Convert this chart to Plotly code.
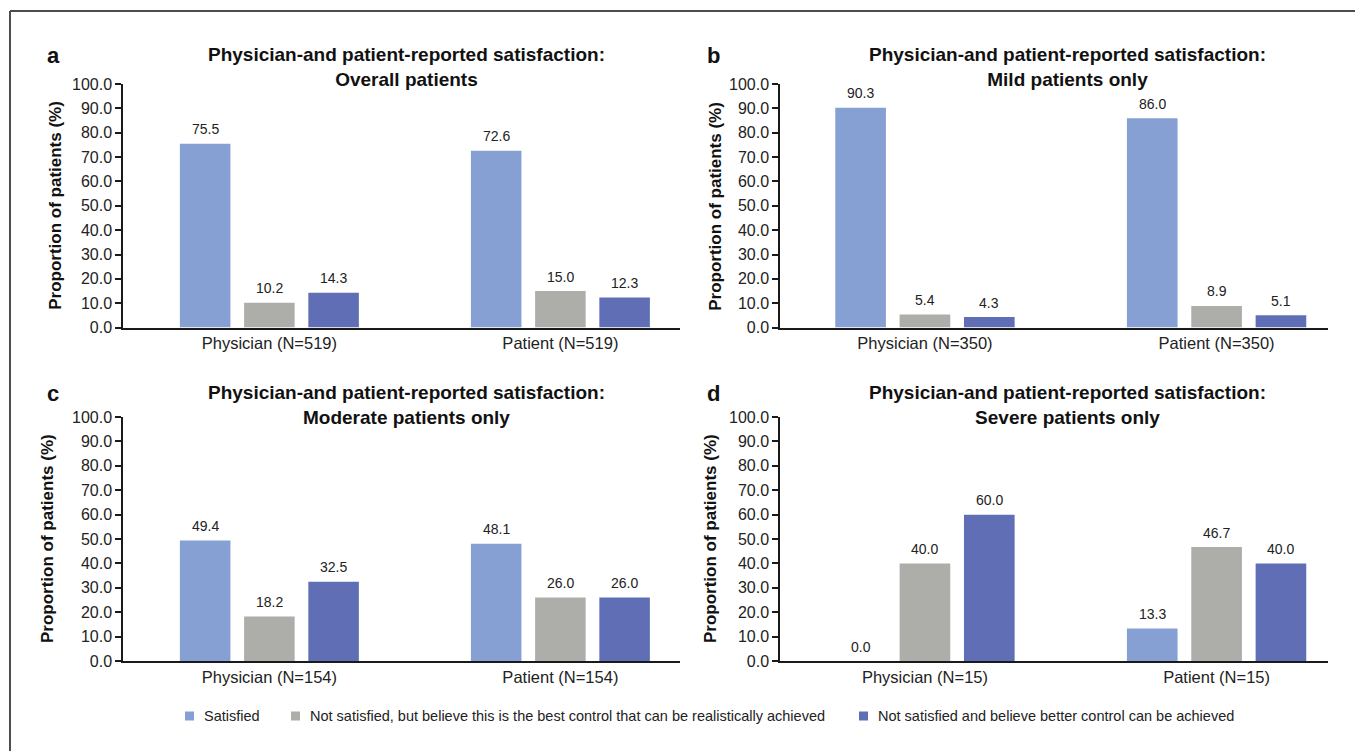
import plotly.graph_objects as go

W, H = 1355, 751

series_names = [
    "Satisfied",
    "Not satisfied, but believe this is the best control that can be realistically achieved",
    "Not satisfied and believe better control can be achieved",
]
series_colors = ["#86a0d3", "#adadaa", "#606fb5"]

panel_letters = ["a", "b", "c", "d"]
panel_subtitles = ["Overall patients", "Mild patients only",
                   "Moderate patients only", "Severe patients only"]
title_line1 = "Physician-and patient-reported satisfaction:"

cats_a = ["Physician (N=519)", "Patient (N=519)"]
cats_b = ["Physician (N=350)", "Patient (N=350)"]
cats_c = ["Physician (N=154)", "Patient (N=154)"]
cats_d = ["Physician (N=15)", "Patient (N=15)"]

satisfied_a = [75.5, 72.6]
notsat_best_a = [10.2, 15.0]
notsat_better_a = [14.3, 12.3]

satisfied_b = [90.3, 86.0]
notsat_best_b = [5.4, 8.9]
notsat_better_b = [4.3, 5.1]

satisfied_c = [49.4, 48.1]
notsat_best_c = [18.2, 26.0]
notsat_better_c = [32.5, 26.0]

satisfied_d = [0.0, 13.3]
notsat_best_d = [40.0, 46.7]
notsat_better_d = [60.0, 40.0]

y_ticks = [0, 10, 20, 30, 40, 50, 60, 70, 80, 90, 100]
y_title = "Proportion of patients (%)"

panels = [
    (cats_a, [satisfied_a, notsat_best_a, notsat_better_a]),
    (cats_b, [satisfied_b, notsat_best_b, notsat_better_b]),
    (cats_c, [satisfied_c, notsat_best_c, notsat_better_c]),
    (cats_d, [satisfied_d, notsat_best_d, notsat_better_d]),
]

# ---- layout geometry (target pixels in the final picture) ----
FONT = "Liberation Sans, Arial, sans-serif"
col_x = [(123, 680), (780, 1328)]
row_y = [(84, 327.5), (417, 661)]
x_ranges = [[-0.503, 1.411], [-0.497, 1.382]]
BARGAP = 0.338
GROUPGAP = 0.213
title_cx = [406, 1067]
title_cy = [67, 405]
letter_x = [53, 713]
ylab_x = [[56, 716], [47, 710]]
VSCALE = 0.9775   # vertical scale observed in the captured page
VOFF = 7.9        # vertical offset observed in the captured page


def px(x):
    return x / W


def py(y):
    return 1 - ((y - VOFF) / VSCALE) / H


fig = go.Figure()
layout = dict(
    width=W, height=H,
    margin=dict(l=0, r=0, t=0, b=0),
    paper_bgcolor="white", plot_bgcolor="white",
    barmode="group", bargap=BARGAP, bargroupgap=GROUPGAP,
    showlegend=False,
    font=dict(family=FONT, color="#222222"),
)
annotations = []
shapes = []

for i, (cats, vals) in enumerate(panels):
    r, c = divmod(i, 2)
    xa = "x" if i == 0 else f"x{i+1}"
    ya = "y" if i == 0 else f"y{i+1}"
    x0, x1 = col_x[c]
    y0, y1 = row_y[r]
    # pixel width of one bar slot inside a group (derived from axis scale)
    unit_px = (x1 - x0) / (x_ranges[c][1] - x_ranges[c][0])
    slot_px = unit_px * (1 - BARGAP) / len(vals)
    for s, v in enumerate(vals):
        fig.add_trace(go.Bar(
            x=cats, y=v, name=series_names[s],
            marker=dict(color=series_colors[s], line=dict(width=0)),
            xaxis=xa, yaxis=ya,
        ))
        # value labels above bars, placed in data coordinates
        for j, val in enumerate(v):
            annotations.append(dict(
                xref=xa, yref=ya, x=cats[j], y=val,
                xshift=(s - (len(vals) - 1) / 2) * slot_px, yshift=14.5,
                xanchor="center", yanchor="middle", showarrow=False,
                text=f"{val:.1f}",
                font=dict(size=14, color="#222222", family=FONT),
            ))
    key_x = "xaxis" if i == 0 else f"xaxis{i+1}"
    key_y = "yaxis" if i == 0 else f"yaxis{i+1}"
    layout[key_x] = dict(
        domain=[px(x0), px(x1)], anchor=ya, type="category",
        range=x_ranges[c], showline=True, linecolor="#1a1a1a", linewidth=1.5,
        ticks="", showgrid=False, zeroline=False,
        tickfont=dict(size=16.5, color="#222222", family=FONT),
    )
    layout[key_y] = dict(
        domain=[py(y1), py(y0)], anchor=xa, range=[0, 100],
        tickvals=y_ticks, ticktext=[f"{t:.1f}" for t in y_ticks],
        showline=True, linecolor="#1a1a1a", linewidth=1.5,
        ticks="outside", ticklen=6, tickwidth=1.5, tickcolor="#1a1a1a",
        showgrid=False, zeroline=False,
        tickfont=dict(size=16, color="#222222", family=FONT),
    )
    # panel title
    annotations.append(dict(
        xref="paper", yref="paper", x=px(title_cx[c]), y=py(title_cy[r]),
        xanchor="center", yanchor="middle", showarrow=False, align="center",
        text=f"<b>{title_line1}</b><br><b>{panel_subtitles[i]}</b>",
        font=dict(size=19, color="#111111", family=FONT),
    ))
    # panel letter
    annotations.append(dict(
        xref="paper", yref="paper", x=px(letter_x[c]), y=py(title_cy[r] - 12),
        xanchor="center", yanchor="middle", showarrow=False,
        text=f"<b>{panel_letters[i]}</b>",
        font=dict(size=22, color="#111111", family=FONT),
    ))
    # y axis title
    annotations.append(dict(
        xref="paper", yref="paper", x=px(ylab_x[r][c]), y=py((y0 + y1) / 2),
        xanchor="center", yanchor="middle", showarrow=False, textangle=-90,
        text=f"<b>{y_title}</b>",
        font=dict(size=17, color="#111111", family=FONT),
    ))

# ---- legend (manual, bottom) ----
legend_sq_x = [185, 291, 859]
legend_y = 716
sq = 9
for s, name in enumerate(series_names):
    lx = legend_sq_x[s]
    shapes.append(dict(
        type="rect", xref="paper", yref="paper",
        x0=px(lx), x1=px(lx + sq), y0=py(legend_y + sq / 2), y1=py(legend_y - sq / 2),
        fillcolor=series_colors[s], line=dict(width=0),
    ))
    annotations.append(dict(
        xref="paper", yref="paper", x=px(lx + sq + 8), y=py(legend_y),
        xanchor="left", yanchor="middle", showarrow=False,
        text=name, font=dict(size=14.5, color="#222222", family=FONT),
    ))

# ---- outer frame (left and top edges) ----
shapes.append(dict(type="line", xref="paper", yref="paper",
                   x0=px(10), x1=px(10), y0=py(11), y1=-0.05,
                   line=dict(color="#4d4d4d", width=2)))
shapes.append(dict(type="line", xref="paper", yref="paper",
                   x0=px(10), x1=1.05, y0=py(11), y1=py(11),
                   line=dict(color="#4d4d4d", width=2)))

layout["annotations"] = annotations
layout["shapes"] = shapes
fig.update_layout(**layout)

fig.write_html(
    "out.html",
    config={"displayModeBar": False},
    post_script="document.body.style.margin='0px';document.body.style.overflow='hidden';",
)
